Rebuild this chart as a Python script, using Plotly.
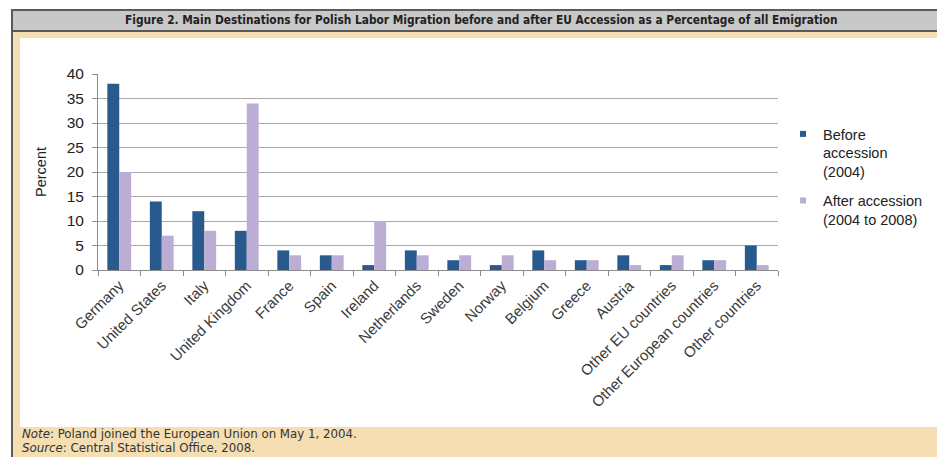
import plotly.graph_objects as go

categories = ["Germany", "United States", "Italy", "United Kingdom", "France", "Spain",
              "Ireland", "Netherlands", "Sweden", "Norway", "Belgium", "Greece", "Austria",
              "Other EU countries", "Other European countries", "Other countries"]
before = [38, 14, 12, 8, 4, 3, 1, 4, 2, 1, 4, 2, 3, 1, 2, 5]
after = [20, 7, 8, 34, 3, 3, 10, 3, 3, 3, 2, 2, 1, 3, 2, 1]
y_ticks = [0, 5, 10, 15, 20, 25, 30, 35, 40]
series_names = ["Before<br>accession<br>(2004)", "After accession<br>(2004 to 2008)"]

title_text = "Figure 2. Main Destinations for Polish Labor Migration before and after EU Accession as a Percentage of all Emigration"
note_text = "<i>Note</i>: Poland joined the European Union on May 1, 2004."
source_text = "<i>Source</i>: Central Statistical Office, 2008."

BLUE = "#285A8E"
LAV = "#BBADD3"
BEIGE = "#F4DEB2"
FRAME = "#5A5A5A"

W, H = 937, 457
# plot area in window pixels
PX0, PX1, PY0, PY1 = 98, 778, 74, 270
L, R, T, B = PX0, W - PX1, PY0, H - PY1
PW, PH = PX1 - PX0, PY1 - PY0


def px(x):
    return (x - PX0) / PW


def py(y):
    return (PY1 - y) / PH


fig = go.Figure()
fig.add_trace(go.Bar(x=categories, y=before, name=series_names[0], showlegend=False,
                     marker=dict(color=BLUE, line=dict(width=0))))
fig.add_trace(go.Bar(x=categories, y=after, name=series_names[1], showlegend=False,
                     marker=dict(color=LAV, line=dict(width=0))))
# legend entries with small square keys
fig.add_trace(go.Scatter(x=[None], y=[None], mode="markers", name=series_names[0],
                         legendgroup="a", marker=dict(symbol="square", size=6, color=BLUE)))
fig.add_trace(go.Scatter(x=[None], y=[None], mode="markers", name=series_names[1],
                         legendgroup="b", marker=dict(symbol="square", size=6, color=LAV)))


def rect(x0, x1, y0, y1, fill, line_w=0):
    return dict(type="rect", xref="paper", yref="paper", x0=px(x0), x1=px(x1),
                y0=py(y0), y1=py(y1), fillcolor=fill,
                line=dict(color=FRAME, width=line_w), layer="below")


shapes = [
    rect(20, 940, 427, 460, BEIGE),      # bottom note band
    rect(20, 940, 31, 38, BEIGE),        # thin band under the title bar
    rect(13, 20, 31, 460, BEIGE),        # left band
    rect(12, 946, 10, 31, "#C8C8C8", 2),  # title bar
    dict(type="line", xref="paper", yref="paper", x0=px(12), x1=px(12), y0=py(10), y1=py(460),
         line=dict(color=FRAME, width=2), layer="below"),
]

annotations = [
    dict(text="<b>" + title_text + "</b>", xref="paper", yref="paper", x=px(481), y=py(20.5),
         xanchor="center", yanchor="middle", showarrow=False,
         font=dict(family="DejaVu Sans Condensed, DejaVu Sans", size=11.8, color="#222222")),
    dict(text=note_text, xref="paper", yref="paper", x=px(20), y=py(434),
         xanchor="left", yanchor="middle", showarrow=False,
         font=dict(family="DejaVu Sans", size=11.8, color="#333333")),
    dict(text=source_text, xref="paper", yref="paper", x=px(20), y=py(447.5),
         xanchor="left", yanchor="middle", showarrow=False,
         font=dict(family="DejaVu Sans", size=11.8, color="#333333")),
]

fig.update_layout(
    width=W, height=H,
    margin=dict(l=L, r=R, t=T, b=B, pad=0, autoexpand=False),
    paper_bgcolor="#FFFFFF",
    plot_bgcolor="rgba(0,0,0,0)",
    barmode="group",
    bargap=0.44,
    bargroupgap=0,
    font=dict(family="Liberation Sans, Arial", color="#222222"),
    shapes=shapes,
    annotations=annotations,
    legend=dict(x=px(783), y=py(118), xanchor="left", yanchor="top",
                bgcolor="rgba(0,0,0,0)", font=dict(size=14.5, color="#222222"),
                tracegroupgap=7, itemwidth=30, valign="top"),
    showlegend=True,
)
fig.update_xaxes(
    type="category", tickangle=-45, tickfont=dict(size=15, color="#3A3A3A"),
    showline=True, linecolor="#8C8C8C", linewidth=1,
    ticks="outside", ticklen=5, tickcolor="#8C8C8C", tickson="boundaries",
    showgrid=False, automargin=False,
)
fig.update_yaxes(
    range=[0, 40], tickvals=y_ticks, tickfont=dict(size=15.5, color="#222222"),
    showline=True, linecolor="#8C8C8C", linewidth=1,
    ticks="outside", ticklen=5, tickcolor="#8C8C8C", ticklabelstandoff=5,
    showgrid=True, gridcolor="#A8A8A8", gridwidth=1,
    zeroline=False, automargin=False,
    title=dict(text="Percent", font=dict(size=14.5, color="#222222"), standoff=16),
)

fig.write_html(
    "out.html",
    config={"displayModeBar": False},
    post_script="document.body.style.margin='0';document.body.style.overflow='hidden';",
)
